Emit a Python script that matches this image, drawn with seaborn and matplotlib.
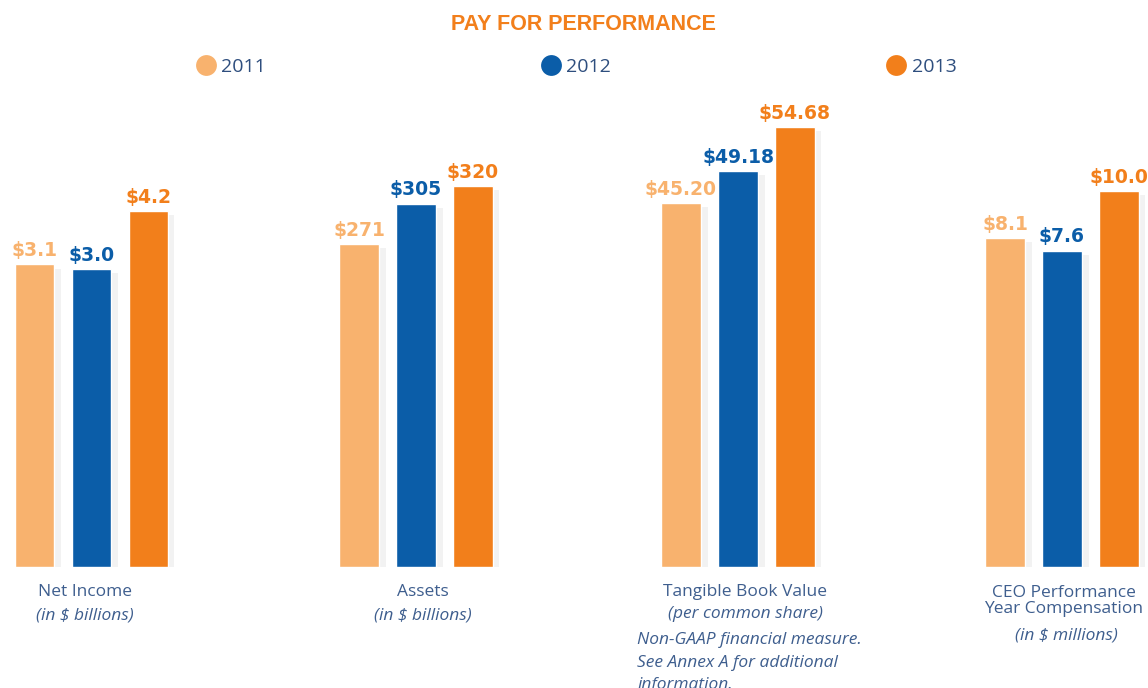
import matplotlib
matplotlib.use("Agg")
from matplotlib import pyplot as plt
from matplotlib.lines import Line2D
import matplotlib.patheffects as pe
import seaborn as sns
import pandas as pd

# data
years = ['2011', '2012', '2013']
net_income = [3.1, 3.0, 4.2]
assets = [271, 305, 320]
book_value = [45.20, 49.18, 54.68]
ceo_comp = [8.1, 7.6, 10.0]
value_fmts = ['${:.1f}', '${:.0f}', '${:.2f}', '${:.1f}']
group_titles = ['Net Income', 'Assets', 'Tangible Book Value', 'CEO Performance\nYear Compensation']
group_units = ['(in $ billions)', '(in $ billions)', '(per common share)', '(in $ millions)']

colors = {'2011': '#F8B26E', '2012': '#0B5DA8', '2013': '#F27F1B'}
label_col = '#3E5E8E'

sns.set_theme(style='white')
plt.rcParams['font.family'] = ['Open Sans', 'DejaVu Sans']

fig = plt.figure(figsize=(11.48, 6.88), dpi=100)

series = [net_income, assets, book_value, ceo_comp]
centers = [91.5, 416, 738, 1062]   # px, middle bar
# each panel has its own scale (baseline of the bars = bottom of the axes)
ylims = [(-3.18, 6.51), (0, 392), (0, 58.0), (-5.18, 13.68)]
W, H = 1148, 688
unit = 57.0  # px per category step

for vals, fmt, c, yl in zip(series, value_fmts, centers, ylims):
    half = 1.45 * unit
    ax = fig.add_axes([(c - half) / W, (H - 567) / H, 2 * half / W, 467 / H])
    df = pd.DataFrame({'year': years, 'value': vals})
    sns.barplot(data=df, x='year', y='value', hue='year', palette=colors,
                width=0.7, legend=False, ax=ax, saturation=1)
    lo = yl[0]
    for cont, yr in zip(ax.containers, years):
        for p in cont:
            # start bars at the panel baseline
            p.set_height(p.get_y() + p.get_height() - lo)
            p.set_y(lo)
            p.set_path_effects([pe.SimplePatchShadow(offset=(5, -3), shadow_rgbFace='#999999', alpha=0.12),
                                pe.Normal()])
        ax.bar_label(cont, labels=[fmt.format(v) for v in cont.datavalues], padding=3,
                     color=colors[yr], fontsize=13.5, fontweight='bold',
                     family=['DejaVu Sans'])
    ax.set_xlim(-0.45, 2.45)
    ax.set_ylim(*yl)
    ax.axis('off')

# category labels
fs = 12.5
def lab(x, y, s, **kw):
    fig.text(x / W, 1 - y / H, s, ha='center', va='center', color=label_col, fontsize=fs, **kw)

lab(85, 592, group_titles[0]); lab(85, 615, group_units[0], style='italic')
lab(423, 592, group_titles[1]); lab(423, 615, group_units[1], style='italic')
lab(745, 592, group_titles[2]); lab(746, 614, group_units[2], style='italic')
fig.text(637 / W, 1 - 632 / H, 'Non-GAAP financial measure.\nSee Annex A for additional\ninformation.',
         ha='left', va='top', color=label_col, fontsize=fs, style='italic', linespacing=1.55)
fig.text(1064 / W, 1 - 601 / H, group_titles[3], ha='center', va='center', color=label_col,
         fontsize=fs, linespacing=1.0)
lab(1066, 635, group_units[3], style='italic')

fig.text(583 / W, 1 - 24 / H, 'PAY FOR PERFORMANCE', ha='center', va='center',
         color='#F27F1B', fontsize=15.5, fontweight='bold', family=['Liberation Sans', 'DejaVu Sans'])

handles = [Line2D([0], [0], marker='o', ls='', markersize=15, markerfacecolor=colors[y],
                  markeredgecolor='none', label=y) for y in years]
fig.legend(handles=handles, ncol=3, loc='center', bbox_to_anchor=(577 / W, 1 - 67 / H),
           frameon=False, fontsize=14, handlelength=0.8, handletextpad=0.4, columnspacing=14.25,
           labelcolor='#2E4E7E')

fig.savefig('out.png', dpi=100)
